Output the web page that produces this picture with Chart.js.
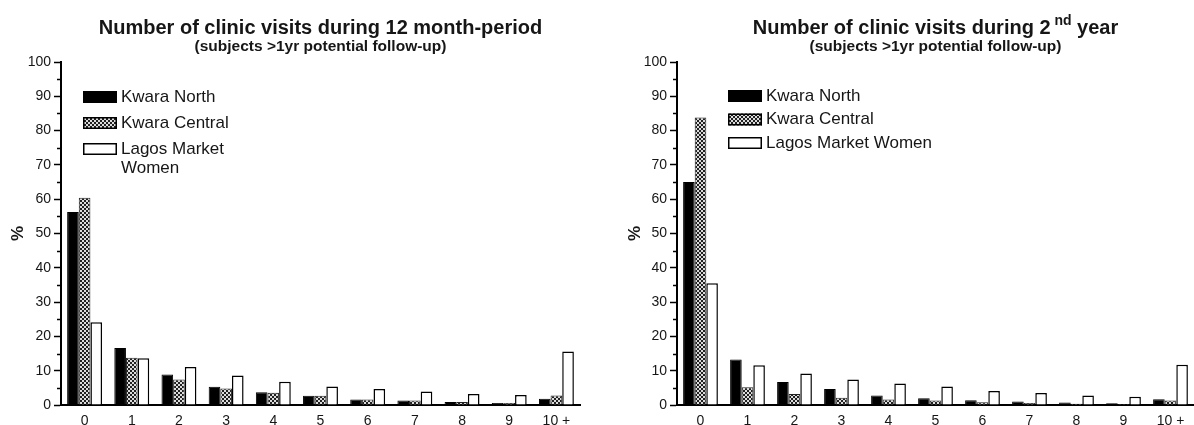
<!DOCTYPE html>
<html>
<head>
<meta charset="utf-8">
<script src="https://cdn.jsdelivr.net/npm/chart.js@4.4.1/dist/chart.umd.min.js"></script>
<style>
  html, body { margin: 0; padding: 0; background: #fff; overflow: hidden; }
  #wrap { position: relative; width: 1194px; height: 425px; }
  canvas { position: absolute; top: 0; }
  #visitsYear1 { left: 0; }
  #visitsYear2 { left: 597px; }
</style>
</head>
<body>
<div id="wrap">
  <canvas id="visitsYear1" width="597" height="425"></canvas>
  <canvas id="visitsYear2" width="597" height="425"></canvas>
</div>
<script>
// Number of clinic visits (x categories)
const visitCounts = ['0', '1', '2', '3', '4', '5', '6', '7', '8', '9', '10 +'];
const yTickValues = [0, 10, 20, 30, 40, 50, 60, 70, 80, 90, 100];
const minorTickValues = [5, 15, 25, 35, 45, 55, 65, 75, 85, 95];

const seriesNames = ['Kwara North', 'Kwara Central', 'Lagos Market Women'];
const legendLinesYear1 = [['Kwara North'], ['Kwara Central'], ['Lagos Market', 'Women']];
const legendLinesYear2 = [['Kwara North'], ['Kwara Central'], ['Lagos Market Women']];

// % of subjects, 12 month-period
const northYear1   = [56.3, 16.6, 8.9, 5.3, 3.7, 2.7, 1.6, 1.3, 0.9, 0.6, 1.8];
const centralYear1 = [60.4, 13.8, 7.4, 4.8, 3.6, 2.7, 1.6, 1.3, 0.9, 0.6, 2.8];
const lagosYear1   = [24.1, 13.6, 11.1, 8.6, 6.8, 5.4, 4.7, 3.9, 3.2, 2.9, 15.6];

// % of subjects, 2nd year
const northYear2   = [65.0, 13.3, 6.7, 4.7, 2.8, 2.0, 1.4, 1.0, 0.7, 0.5, 1.7];
const centralYear2 = [83.8, 5.2, 3.2, 2.1, 1.6, 1.3, 0.8, 0.6, 0.4, 0.3, 1.3];
const lagosYear2   = [35.5, 11.6, 9.2, 7.4, 6.3, 5.4, 4.1, 3.5, 2.8, 2.4, 11.7];

const titleYear1 = [{ t: 'Number of clinic visits during 12 month-period' }];
const titleYear2 = [{ t: 'Number of clinic visits during 2' }, { t: ' nd', sup: true }, { t: ' year' }];
const subtitleText = '(subjects >1yr potential follow-up)';

const FONT = "'Liberation Sans', Arial, Helvetica, sans-serif";
const INK = '#161616';

function checkerPattern(canvas) {
  const tile = document.createElement('canvas');
  tile.width = 4; tile.height = 4;
  const g = tile.getContext('2d');
  g.fillStyle = '#dcdcdc';
  g.fillRect(0, 0, 4, 4);
  g.fillStyle = '#202020';
  g.fillRect(0, 0, 2, 2);
  g.fillRect(2, 2, 2, 2);
  return canvas.getContext('2d').createPattern(tile, 'repeat');
}

// Title + subtitle centred over the plot area, with optional superscript pieces
const panelTitle = {
  id: 'panelTitle',
  afterDraw(chart, args, opts) {
    const ctx = chart.ctx;
    const a = chart.chartArea;
    const cx = (a.left + a.right) / 2;
    ctx.save();
    ctx.fillStyle = INK;
    ctx.textBaseline = 'middle';
    ctx.textAlign = 'left';
    const mainFont = 'bold ' + opts.size + 'px ' + FONT;
    const supFont = 'bold ' + opts.supSize + 'px ' + FONT;
    let total = 0;
    opts.parts.forEach(p => { ctx.font = p.sup ? supFont : mainFont; total += ctx.measureText(p.t).width; });
    let x = cx - total / 2;
    opts.parts.forEach(p => {
      ctx.font = p.sup ? supFont : mainFont;
      ctx.fillText(p.t, x, p.sup ? opts.y - 7 : opts.y);
      x += ctx.measureText(p.t).width;
    });
    ctx.font = 'bold ' + opts.subSize + 'px ' + FONT;
    ctx.textAlign = 'center';
    ctx.fillText(opts.subtitle, cx, opts.subY);
    ctx.restore();
  }
};

// Legend inside the plot area, swatches use each dataset's own fill
const insetLegend = {
  id: 'insetLegend',
  afterDraw(chart, args, opts) {
    const ctx = chart.ctx;
    const a = chart.chartArea;
    const x = a.left + opts.dx;
    ctx.save();
    ctx.font = opts.size + 'px ' + FONT;
    ctx.textBaseline = 'middle';
    ctx.textAlign = 'left';
    chart.data.datasets.forEach((ds, i) => {
      const y = a.top + opts.dy + i * opts.rowGap;
      ctx.fillStyle = ds.backgroundColor;
      ctx.fillRect(x, y - 6, 34, 12);
      ctx.strokeStyle = '#000';
      ctx.lineWidth = 1.5;
      ctx.strokeRect(x + 0.75, y - 5.25, 32.5, 10.5);
      ctx.fillStyle = INK;
      opts.lines[i].forEach((line, k) => ctx.fillText(line, x + 38, y + k * opts.lineGap));
    });
    ctx.restore();
  }
};

// Short unlabelled ticks between the labelled ones on the y axis
const minorTicks = {
  id: 'minorTicks',
  afterDraw(chart) {
    const y = chart.scales.y;
    const ctx = chart.ctx;
    const left = chart.chartArea.left;
    ctx.save();
    ctx.strokeStyle = '#000';
    ctx.lineWidth = 1.5;
    minorTickValues.forEach(v => {
      const py = Math.round(y.getPixelForValue(v)) + 0.5;
      ctx.beginPath();
      ctx.moveTo(left - 4, py);
      ctx.lineTo(left, py);
      ctx.stroke();
    });
    ctx.restore();
  }
};

function buildChart(canvasId, north, central, lagos, cfg) {
  const canvas = document.getElementById(canvasId);
  const hatch = checkerPattern(canvas);
  return new Chart(canvas, {
    type: 'bar',
    data: {
      labels: visitCounts,
      datasets: [
        { label: seriesNames[0], data: north, backgroundColor: '#000', borderColor: '#000', borderWidth: 1 },
        { label: seriesNames[1], data: central, backgroundColor: hatch, borderColor: '#222', borderWidth: 1 },
        { label: seriesNames[2], data: lagos, backgroundColor: '#fff', borderColor: '#000', borderWidth: 1.5 }
      ]
    },
    options: {
      responsive: false,
      animation: false,
      events: [],
      layout: { padding: { left: 0, right: cfg.padRight, top: 62, bottom: 0 } },
      datasets: { bar: { categoryPercentage: 0.74, barPercentage: 1.0 } },
      plugins: {
        legend: { display: false },
        tooltip: { enabled: false },
        title: { display: false },
        panelTitle: { parts: cfg.title, size: 20, supSize: 14, y: 28, subtitle: subtitleText, subSize: 15.5, subY: 47 },
        insetLegend: { lines: cfg.legendLines, size: 17, dx: cfg.legendDx, dy: cfg.legendDy, rowGap: cfg.rowGap, lineGap: 19 }
      },
      scales: {
        x: {
          grid: { display: false, drawTicks: false },
          border: { display: true, color: '#000', width: 2 },
          ticks: { color: INK, font: { family: FONT, size: 14 }, padding: 8, maxRotation: 0, autoSkip: false },
          afterFit: s => { s.height = 20; }
        },
        y: {
          min: 0, max: 100,
          afterBuildTicks: s => { s.ticks = yTickValues.map(v => ({ value: v })); },
          grid: { drawOnChartArea: false, drawTicks: true, tickLength: 7, tickColor: '#000', tickWidth: 1.5 },
          border: { display: true, color: '#000', width: 2 },
          ticks: { color: INK, font: { family: FONT, size: 14 }, padding: 3 },
          title: { display: true, text: '%', color: INK, font: { family: FONT, size: 17, weight: 'bold' }, padding: { top: cfg.titlePad, bottom: 0 } },
          afterFit: s => { s.width = cfg.axisWidth; }
        }
      }
    },
    plugins: [panelTitle, insetLegend, minorTicks]
  });
}

buildChart('visitsYear1', northYear1, centralYear1, lagosYear1, {
  padRight: 17, axisWidth: 61, titlePad: 8, title: titleYear1,
  legendLines: legendLinesYear1, legendDx: 22, legendDy: 35, rowGap: 26
});
buildChart('visitsYear2', northYear2, centralYear2, lagosYear2, {
  padRight: 0, axisWidth: 80, titlePad: 28, title: titleYear2,
  legendLines: legendLinesYear2, legendDx: 51, legendDy: 34, rowGap: 23.5
});
</script>
</body>
</html>
